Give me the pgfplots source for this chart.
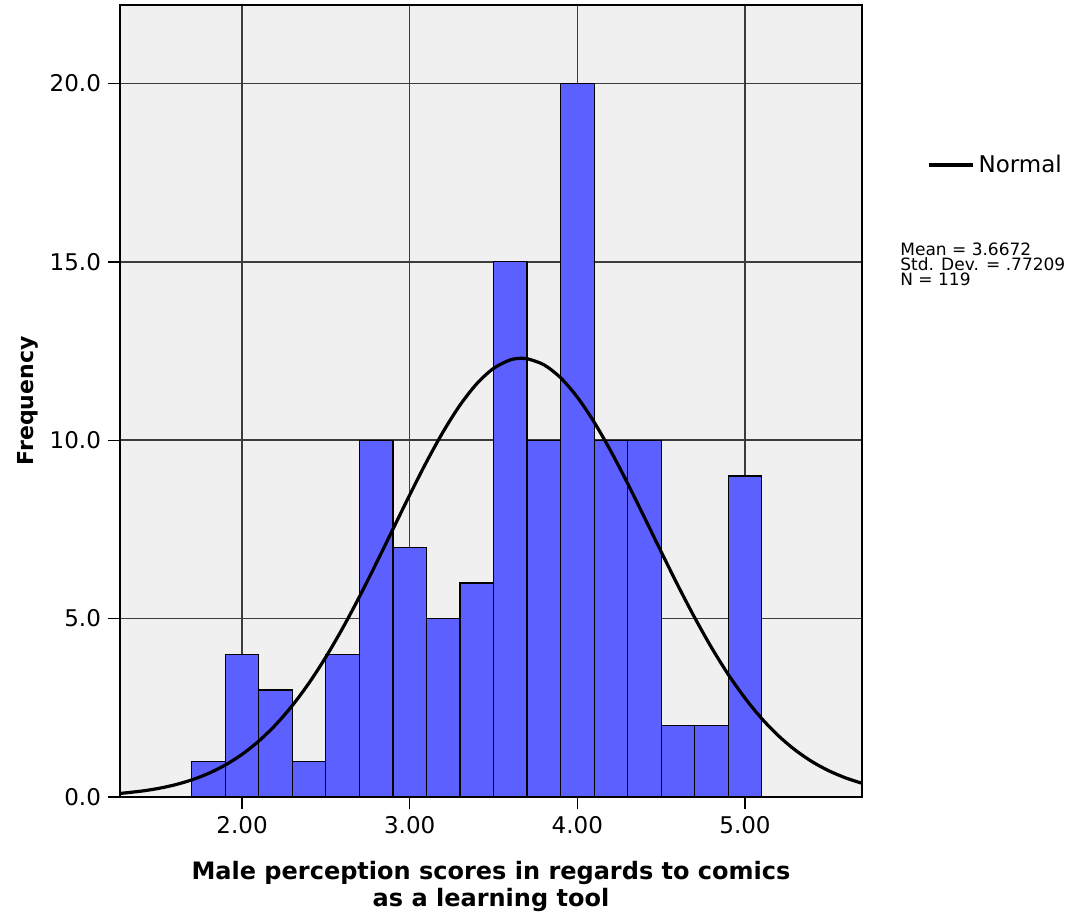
\documentclass[border=0pt]{standalone}
\usepackage{pgfplots}
\pgfplotsset{compat=1.18}
\usepackage{fontspec}
\setmainfont{DejaVu Sans}
\definecolor{barblue}{RGB}{91,96,255}
\definecolor{plotbg}{RGB}{240,240,240}
\definecolor{gridc}{RGB}{60,60,60}
\begin{document}
\begin{tikzpicture}
\useasboundingbox (-60pt,-61pt) rectangle (479pt,398.5pt);
\begin{axis}[
  scale only axis,
  width=371pt, height=396pt,
  xmin=1.272, xmax=5.698,
  ymin=0, ymax=22.2,
  axis background/.style={fill=plotbg},
  axis line style={black, line width=0.7pt},
  xtick={2,3,4,5},
  ytick={0,5,10,15,20},
  xticklabel style={/pgf/number format/.cd, fixed, fixed zerofill, precision=2},
  yticklabel style={/pgf/number format/.cd, fixed, fixed zerofill, precision=1},
  /pgf/number format/assume math mode=true,
  tick label style={font=\fontsize{11.5}{13}\selectfont},
  tick align=outside,
  xtick pos=left, ytick pos=left,
  major tick length=6pt,
  tick style={black, line width=0.7pt},
  grid=major,
  major grid style={gridc, line width=0.8pt},
  xlabel={Male perception scores in regards to comics\\as a learning tool},
  xlabel style={align=center, font=\fontsize{12}{13.5}\selectfont\bfseries, yshift=-7pt},
  ylabel={Frequency},
  ylabel style={font=\fontsize{11}{13}\selectfont\bfseries, yshift=-1pt},
  clip=false,
  legend style={at={(rel axis cs:1.0876,0.798)}, anchor=west, draw=none, fill=none,
    inner sep=0pt, font=\fontsize{11.5}{13}\selectfont},
  legend image code/.code={\draw[#1] (0pt,0pt) -- (22pt,0pt);},
]
\addplot[ybar interval, fill=barblue, draw=black, line width=0.6pt, forget plot] coordinates {
(1.7,1) (1.9,4) (2.1,3) (2.3,1) (2.5,4) (2.7,10) (2.9,7) (3.1,5) (3.3,6)
(3.5,15) (3.7,10) (3.9,20) (4.1,10) (4.3,10) (4.5,2) (4.7,2) (4.9,9) (5.1,9)
};
\addplot[black, line width=1.6pt, smooth, mark=none] coordinates {
(1.272,0.0992) (1.4,0.1650) (1.5,0.2393) (1.6,0.3413) (1.7,0.4788) (1.8,0.6604)
(1.9,0.8958) (2.0,1.1948) (2.1,1.5673) (2.2,2.0216) (2.3,2.5641) (2.4,3.1981)
(2.5,3.9226) (2.6,4.7312) (2.7,5.6115) (2.8,6.5448) (2.9,7.5065) (3.0,8.4660)
(3.1,9.3896) (3.2,10.2406) (3.3,10.983) (3.4,11.583) (3.5,12.013) (3.6,12.252)
(3.6672,12.298) (3.7,12.287) (3.8,12.117) (3.9,11.752) (4.0,11.207) (4.1,10.510)
(4.2,9.692) (4.3,8.790) (4.4,7.838) (4.5,6.874) (4.6,5.928) (4.7,5.027)
(4.8,4.192) (4.9,3.437) (5.0,2.772) (5.1,2.198) (5.2,1.714) (5.3,1.3142)
(5.4,0.9910) (5.5,0.7349) (5.6,0.5358) (5.698,0.3842)
};
\addlegendentry{Normal}
\node[anchor=west, align=left, inner sep=0pt, font=\fontsize{8.5}{7.5}\selectfont]
  at (rel axis cs:1.0512,0.672) {Mean = 3.6672\\Std. Dev. = .77209\\N = 119};
\end{axis}
\end{tikzpicture}
\end{document}
